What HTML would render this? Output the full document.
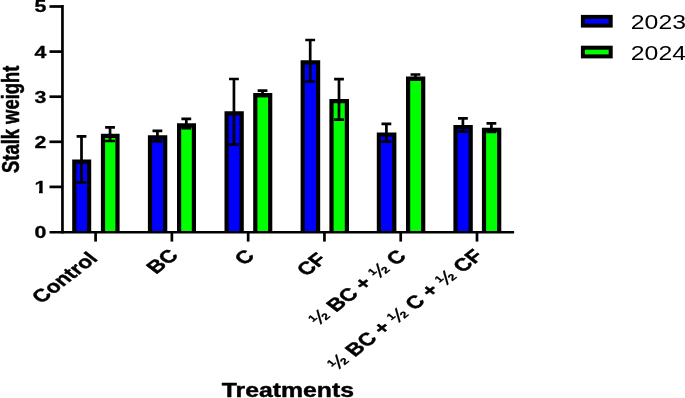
<!DOCTYPE html><html><head><meta charset="utf-8"><title>Stalk weight</title><style>html,body{margin:0;padding:0;background:#fff}svg{display:block}text{font-family:"Liberation Sans",Arial,sans-serif;fill:#000}.b{font-weight:bold;stroke:#000;stroke-width:0.4px;stroke-linejoin:round}.t{stroke-width:0.3px}</style></head><body>
<svg width="685" height="398" viewBox="0 0 685 398">
<rect width="685" height="398" fill="#fff"/>
<defs><clipPath id="c1"><path d="M-16 -20H4V-1.99H-2.78V2H-5.66V-1.99H-16Z"/></clipPath></defs>
<path d="M74.30 231.90V161.70H89.10V231.90" fill="#0000ff" stroke="#000" stroke-width="4.2"/>
<path d="M81.50 136.40V182.50M76.60 136.40H86.40M76.60 182.50H86.40" stroke="#000" stroke-width="2.7" fill="none"/>
<path d="M103.00 231.90V135.80H117.50V231.90" fill="#00ff00" stroke="#000" stroke-width="4.2"/>
<path d="M110.05 127.30V141.00M105.15 127.30H114.95M105.15 141.00H114.95" stroke="#000" stroke-width="2.7" fill="none"/>
<path d="M150.00 231.90V137.30H165.20V231.90" fill="#0000ff" stroke="#000" stroke-width="4.2"/>
<path d="M157.40 130.80V141.40M152.50 130.80H162.30M152.50 141.40H162.30" stroke="#000" stroke-width="2.7" fill="none"/>
<path d="M179.10 231.90V125.30H193.90V231.90" fill="#00ff00" stroke="#000" stroke-width="4.2"/>
<path d="M186.30 118.80V128.20M181.40 118.80H191.20M181.40 128.20H191.20" stroke="#000" stroke-width="2.7" fill="none"/>
<path d="M226.60 231.90V113.30H241.70V231.90" fill="#0000ff" stroke="#000" stroke-width="4.2"/>
<path d="M233.95 79.00V144.40M229.05 79.00H238.85M229.05 144.40H238.85" stroke="#000" stroke-width="2.7" fill="none"/>
<path d="M255.30 231.90V95.20H270.20V231.90" fill="#00ff00" stroke="#000" stroke-width="4.2"/>
<path d="M262.55 90.70V96.00M257.65 90.70H267.45M257.65 96.00H267.45" stroke="#000" stroke-width="2.7" fill="none"/>
<path d="M302.70 231.90V62.30H318.10V231.90" fill="#0000ff" stroke="#000" stroke-width="4.2"/>
<path d="M310.20 40.00V81.50M305.30 40.00H315.10M305.30 81.50H315.10" stroke="#000" stroke-width="2.7" fill="none"/>
<path d="M331.50 231.90V101.20H346.90V231.90" fill="#00ff00" stroke="#000" stroke-width="4.2"/>
<path d="M339.00 79.20V119.70M334.10 79.20H343.90M334.10 119.70H343.90" stroke="#000" stroke-width="2.7" fill="none"/>
<path d="M378.90 231.90V134.50H394.30V231.90" fill="#0000ff" stroke="#000" stroke-width="4.2"/>
<path d="M386.40 123.80V141.70M381.50 123.80H391.30M381.50 141.70H391.30" stroke="#000" stroke-width="2.7" fill="none"/>
<path d="M408.10 231.90V78.60H423.20V231.90" fill="#00ff00" stroke="#000" stroke-width="4.2"/>
<path d="M415.45 74.50V79.50M410.55 74.50H420.35M410.55 79.50H420.35" stroke="#000" stroke-width="2.7" fill="none"/>
<path d="M455.50 231.90V127.20H470.70V231.90" fill="#0000ff" stroke="#000" stroke-width="4.2"/>
<path d="M462.90 118.30V131.70M458.00 118.30H467.80M458.00 131.70H467.80" stroke="#000" stroke-width="2.7" fill="none"/>
<path d="M484.00 231.90V129.90H499.20V231.90" fill="#00ff00" stroke="#000" stroke-width="4.2"/>
<path d="M491.40 123.40V132.00M486.50 123.40H496.30M486.50 132.00H496.30" stroke="#000" stroke-width="2.7" fill="none"/>
<path d="M62.45 5.0V233.40" stroke="#000" stroke-width="2.7" fill="none"/>
<path d="M49.5 232.20H514.1" stroke="#000" stroke-width="2.6" fill="none"/>
<path d="M49.5 186.90H62.45" stroke="#000" stroke-width="2.7"/>
<path d="M49.5 141.80H62.45" stroke="#000" stroke-width="2.7"/>
<path d="M49.5 96.70H62.45" stroke="#000" stroke-width="2.7"/>
<path d="M49.5 51.60H62.45" stroke="#000" stroke-width="2.7"/>
<path d="M49.5 6.50H62.45" stroke="#000" stroke-width="2.7"/>
<path d="M95.60 231.90V241.6" stroke="#000" stroke-width="2.7"/>
<path d="M171.88 231.90V241.6" stroke="#000" stroke-width="2.7"/>
<path d="M248.16 231.90V241.6" stroke="#000" stroke-width="2.7"/>
<path d="M324.44 231.90V241.6" stroke="#000" stroke-width="2.7"/>
<path d="M400.72 231.90V241.6" stroke="#000" stroke-width="2.7"/>
<path d="M477.00 231.90V241.6" stroke="#000" stroke-width="2.7"/>
<text transform="translate(46.3 237.90) scale(1.285 1)" text-anchor="end" font-size="16.6" class="b t">0</text>
<text transform="translate(46.3 192.80) scale(1.285 1)" text-anchor="end" font-size="16.6" class="b t" clip-path="url(#c1)">1</text>
<text transform="translate(46.3 147.70) scale(1.285 1)" text-anchor="end" font-size="16.6" class="b t">2</text>
<text transform="translate(46.3 102.60) scale(1.285 1)" text-anchor="end" font-size="16.6" class="b t">3</text>
<text transform="translate(46.3 57.50) scale(1.285 1)" text-anchor="end" font-size="16.6" class="b t">4</text>
<text transform="translate(46.3 12.40) scale(1.285 1)" text-anchor="end" font-size="16.6" class="b t">5</text>
<text transform="translate(98.80 259.40) scale(1.285 1) rotate(-45)" text-anchor="end" font-size="17.8" class="b">Control</text>
<text transform="translate(179.38 256.50) scale(1.285 1) rotate(-45)" text-anchor="end" font-size="17.8" class="b">BC</text>
<text transform="translate(255.56 257.00) scale(1.285 1) rotate(-45)" text-anchor="end" font-size="17.8" class="b">C</text>
<text transform="translate(327.74 260.20) scale(1.285 1) rotate(-45)" text-anchor="end" font-size="17.8" class="b">CF</text>
<text transform="translate(407.42 257.20) scale(1.285 1) rotate(-45)" text-anchor="end" font-size="17.8" class="b"><tspan stroke-width="0.1">½</tspan> BC + <tspan stroke-width="0.1">½</tspan> C</text>
<text transform="translate(484.10 256.70) scale(1.285 1) rotate(-45)" text-anchor="end" font-size="17.8" class="b"><tspan stroke-width="0.1">½</tspan> BC + <tspan stroke-width="0.1">½</tspan> C + <tspan stroke-width="0.1">½</tspan> CF</text>
<text transform="translate(19 119.3) scale(1.285 1) rotate(-90)" text-anchor="middle" font-size="18.4" class="b">Stalk weight</text>
<text transform="translate(287.9 396.9) scale(1.285 1)" text-anchor="middle" font-size="19.3" class="b">Treatments</text>
<rect x="582.90" y="16.90" width="27.80" height="8.70" fill="#0000ff" stroke="#000" stroke-width="4"/>
<text transform="translate(630.8 28.60) scale(1.285 1)" font-size="19.3">2023</text>
<rect x="582.90" y="47.70" width="27.80" height="8.70" fill="#00ff00" stroke="#000" stroke-width="4"/>
<text transform="translate(630.8 59.60) scale(1.285 1)" font-size="19.3">2024</text>
</svg></body></html>
